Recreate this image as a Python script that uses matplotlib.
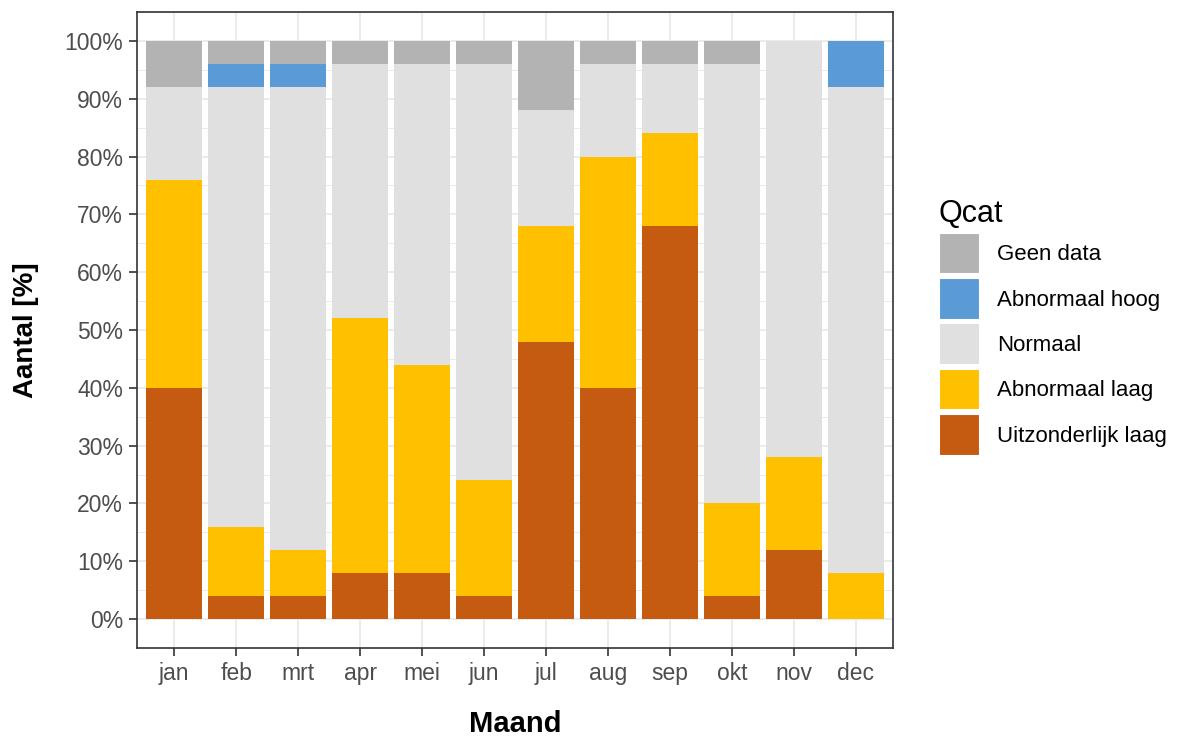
import numpy as np
import matplotlib.pyplot as plt
from matplotlib.patches import Patch
from matplotlib.ticker import MultipleLocator, FuncFormatter

plt.rcParams['font.family'] = ['Liberation Sans', 'DejaVu Sans']

# Data (percent per month)
months = ["jan", "feb", "mrt", "apr", "mei", "jun", "jul", "aug", "sep", "okt", "nov", "dec"]
uitzonderlijk_laag = [40, 4, 4, 8, 8, 4, 48, 40, 68, 4, 12, 0]
abnormaal_laag = [36, 12, 8, 44, 36, 20, 20, 40, 16, 16, 16, 8]
normaal = [16, 76, 80, 44, 52, 72, 20, 16, 12, 76, 72, 84]
abnormaal_hoog = [0, 4, 4, 0, 0, 0, 0, 0, 0, 0, 0, 8]
geen_data = [8, 4, 4, 4, 4, 4, 12, 4, 4, 4, 0, 0]

categories = ["Geen data", "Abnormaal hoog", "Normaal", "Abnormaal laag", "Uitzonderlijk laag"]
colors = ["#B3B3B3", "#5B9BD5", "#E0E0E0", "#FFC000", "#C55A11"]

fig = plt.figure(figsize=(11.79, 7.37), dpi=100)
ax = fig.add_axes([137/1179, 1 - 648/737, 756/1179, 636/737])

x = np.arange(1, len(months) + 1)
stack_order = [uitzonderlijk_laag, abnormaal_laag, normaal, abnormaal_hoog, geen_data]
stack_colors = colors[::-1]
bottom = np.zeros(len(months))
for vals, col in zip(stack_order, stack_colors):
    v = np.array(vals) / 100
    ax.bar(x, v, bottom=bottom, width=0.9, color=col, linewidth=0, zorder=3)
    bottom += v

ax.set_xlim(0.4, 12.6)
ax.set_ylim(-0.05, 1.05)
ax.set_xticks(x)
ax.set_xticklabels(months)
ax.yaxis.set_major_locator(MultipleLocator(0.1))
ax.yaxis.set_minor_locator(MultipleLocator(0.05))
ax.yaxis.set_major_formatter(FuncFormatter(lambda v, p: f"{v*100:.0f}%"))

ax.grid(True, which="major", color="#EBEBEB", lw=1.4, zorder=0)
ax.grid(True, which="minor", axis="y", color="#EBEBEB", lw=0.7, zorder=0)
ax.tick_params(axis="both", which="major", labelsize=16.5, labelcolor="#4D4D4D",
               color="#333333", length=6, width=1.2, pad=4)
ax.tick_params(axis="y", which="minor", length=0)
for s in ax.spines.values():
    s.set_color("#333333")
    s.set_linewidth(1.2)

ax.set_xlabel("Maand", fontsize=21, fontweight="bold", labelpad=18)
ax.set_ylabel("Aantal [%]", fontsize=20, fontweight="bold", labelpad=18)

handles = [Patch(facecolor=c, edgecolor="white", linewidth=1.5) for c in colors]
leg = fig.legend(handles, categories, title="Qcat", loc="upper left",
                 bbox_to_anchor=(939/1179, 1 - 199/737), frameon=False,
                 borderpad=0, borderaxespad=0,
                 fontsize=16, title_fontsize=22, handlelength=1.85, handleheight=2.5,
                 handletextpad=0.75, labelspacing=0.17)
leg._legend_box.align = "left"

fig.savefig("out.png", dpi=100)
